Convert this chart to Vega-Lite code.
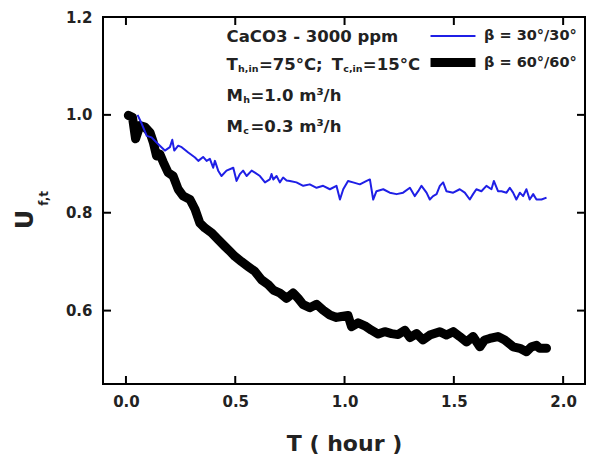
{
  "$schema": "https://vega.github.io/schema/vega-lite/v6.json",
  "width": 482,
  "height": 367,
  "autosize": "none",
  "padding": {"left": 103, "top": 17, "right": 4, "bottom": 77},
  "background": "white",
  "config": {
    "view": {"stroke": "black", "strokeWidth": 2},
    "font": "DejaVu Sans",
    "axis": {
      "labelFont": "DejaVu Sans",
      "labelFontWeight": "bold",
      "labelFontSize": 15,
      "labelColor": "#222",
      "titleFont": "DejaVu Sans",
      "titleFontWeight": "bold",
      "titleColor": "#222",
      "tickOpacity": 0,
      "tickSize": 8,
      "domain": false,
      "grid": false,
      "labelFlush": false
    }
  },
  "datasets": {
    "xticks": [{"v": 0}, {"v": 0.5}, {"v": 1.0}, {"v": 1.5}, {"v": 2.0}],
    "yticks": [{"v": 0.6}, {"v": 0.8}, {"v": 1.0}, {"v": 1.2}],
    "curves": [
      {"t": 0.011, "u": 0.999, "s": "β = 60°/60°"},
      {"t": 0.030, "u": 0.995, "s": "β = 60°/60°"},
      {"t": 0.044, "u": 0.951, "s": "β = 60°/60°"},
      {"t": 0.064, "u": 0.978, "s": "β = 60°/60°"},
      {"t": 0.087, "u": 0.975, "s": "β = 60°/60°"},
      {"t": 0.110, "u": 0.964, "s": "β = 60°/60°"},
      {"t": 0.125, "u": 0.944, "s": "β = 60°/60°"},
      {"t": 0.140, "u": 0.916, "s": "β = 60°/60°"},
      {"t": 0.155, "u": 0.920, "s": "β = 60°/60°"},
      {"t": 0.171, "u": 0.903, "s": "β = 60°/60°"},
      {"t": 0.193, "u": 0.882, "s": "β = 60°/60°"},
      {"t": 0.216, "u": 0.875, "s": "β = 60°/60°"},
      {"t": 0.239, "u": 0.848, "s": "β = 60°/60°"},
      {"t": 0.262, "u": 0.834, "s": "β = 60°/60°"},
      {"t": 0.293, "u": 0.827, "s": "β = 60°/60°"},
      {"t": 0.316, "u": 0.807, "s": "β = 60°/60°"},
      {"t": 0.338, "u": 0.779, "s": "β = 60°/60°"},
      {"t": 0.361, "u": 0.769, "s": "β = 60°/60°"},
      {"t": 0.392, "u": 0.759, "s": "β = 60°/60°"},
      {"t": 0.422, "u": 0.745, "s": "β = 60°/60°"},
      {"t": 0.453, "u": 0.731, "s": "β = 60°/60°"},
      {"t": 0.476, "u": 0.721, "s": "β = 60°/60°"},
      {"t": 0.498, "u": 0.711, "s": "β = 60°/60°"},
      {"t": 0.529, "u": 0.700, "s": "β = 60°/60°"},
      {"t": 0.559, "u": 0.690, "s": "β = 60°/60°"},
      {"t": 0.590, "u": 0.680, "s": "β = 60°/60°"},
      {"t": 0.620, "u": 0.663, "s": "β = 60°/60°"},
      {"t": 0.651, "u": 0.653, "s": "β = 60°/60°"},
      {"t": 0.674, "u": 0.642, "s": "β = 60°/60°"},
      {"t": 0.704, "u": 0.636, "s": "β = 60°/60°"},
      {"t": 0.735, "u": 0.625, "s": "β = 60°/60°"},
      {"t": 0.765, "u": 0.636, "s": "β = 60°/60°"},
      {"t": 0.788, "u": 0.625, "s": "β = 60°/60°"},
      {"t": 0.811, "u": 0.612, "s": "β = 60°/60°"},
      {"t": 0.841, "u": 0.606, "s": "β = 60°/60°"},
      {"t": 0.872, "u": 0.613, "s": "β = 60°/60°"},
      {"t": 0.902, "u": 0.601, "s": "β = 60°/60°"},
      {"t": 0.933, "u": 0.591, "s": "β = 60°/60°"},
      {"t": 0.963, "u": 0.586, "s": "β = 60°/60°"},
      {"t": 0.986, "u": 0.588, "s": "β = 60°/60°"},
      {"t": 1.016, "u": 0.590, "s": "β = 60°/60°"},
      {"t": 1.032, "u": 0.567, "s": "β = 60°/60°"},
      {"t": 1.062, "u": 0.575, "s": "β = 60°/60°"},
      {"t": 1.093, "u": 0.569, "s": "β = 60°/60°"},
      {"t": 1.123, "u": 0.560, "s": "β = 60°/60°"},
      {"t": 1.154, "u": 0.552, "s": "β = 60°/60°"},
      {"t": 1.184, "u": 0.557, "s": "β = 60°/60°"},
      {"t": 1.215, "u": 0.553, "s": "β = 60°/60°"},
      {"t": 1.245, "u": 0.551, "s": "β = 60°/60°"},
      {"t": 1.276, "u": 0.560, "s": "β = 60°/60°"},
      {"t": 1.299, "u": 0.545, "s": "β = 60°/60°"},
      {"t": 1.329, "u": 0.553, "s": "β = 60°/60°"},
      {"t": 1.359, "u": 0.540, "s": "β = 60°/60°"},
      {"t": 1.390, "u": 0.550, "s": "β = 60°/60°"},
      {"t": 1.436, "u": 0.557, "s": "β = 60°/60°"},
      {"t": 1.466, "u": 0.550, "s": "β = 60°/60°"},
      {"t": 1.497, "u": 0.557, "s": "β = 60°/60°"},
      {"t": 1.527, "u": 0.547, "s": "β = 60°/60°"},
      {"t": 1.558, "u": 0.536, "s": "β = 60°/60°"},
      {"t": 1.588, "u": 0.547, "s": "β = 60°/60°"},
      {"t": 1.619, "u": 0.526, "s": "β = 60°/60°"},
      {"t": 1.641, "u": 0.540, "s": "β = 60°/60°"},
      {"t": 1.664, "u": 0.543, "s": "β = 60°/60°"},
      {"t": 1.702, "u": 0.547, "s": "β = 60°/60°"},
      {"t": 1.733, "u": 0.540, "s": "β = 60°/60°"},
      {"t": 1.771, "u": 0.526, "s": "β = 60°/60°"},
      {"t": 1.802, "u": 0.523, "s": "β = 60°/60°"},
      {"t": 1.832, "u": 0.516, "s": "β = 60°/60°"},
      {"t": 1.855, "u": 0.526, "s": "β = 60°/60°"},
      {"t": 1.878, "u": 0.529, "s": "β = 60°/60°"},
      {"t": 1.893, "u": 0.523, "s": "β = 60°/60°"},
      {"t": 1.924, "u": 0.523, "s": "β = 60°/60°"},
      {"t": 0.053, "u": 1.000, "s": "β = 30°/30°"},
      {"t": 0.069, "u": 0.985, "s": "β = 30°/30°"},
      {"t": 0.095, "u": 0.957, "s": "β = 30°/30°"},
      {"t": 0.117, "u": 0.954, "s": "β = 30°/30°"},
      {"t": 0.148, "u": 0.940, "s": "β = 30°/30°"},
      {"t": 0.178, "u": 0.927, "s": "β = 30°/30°"},
      {"t": 0.201, "u": 0.934, "s": "β = 30°/30°"},
      {"t": 0.212, "u": 0.949, "s": "β = 30°/30°"},
      {"t": 0.221, "u": 0.927, "s": "β = 30°/30°"},
      {"t": 0.239, "u": 0.937, "s": "β = 30°/30°"},
      {"t": 0.255, "u": 0.934, "s": "β = 30°/30°"},
      {"t": 0.285, "u": 0.923, "s": "β = 30°/30°"},
      {"t": 0.316, "u": 0.913, "s": "β = 30°/30°"},
      {"t": 0.331, "u": 0.906, "s": "β = 30°/30°"},
      {"t": 0.353, "u": 0.914, "s": "β = 30°/30°"},
      {"t": 0.369, "u": 0.906, "s": "β = 30°/30°"},
      {"t": 0.384, "u": 0.910, "s": "β = 30°/30°"},
      {"t": 0.399, "u": 0.892, "s": "β = 30°/30°"},
      {"t": 0.407, "u": 0.906, "s": "β = 30°/30°"},
      {"t": 0.422, "u": 0.886, "s": "β = 30°/30°"},
      {"t": 0.437, "u": 0.875, "s": "β = 30°/30°"},
      {"t": 0.460, "u": 0.886, "s": "β = 30°/30°"},
      {"t": 0.491, "u": 0.892, "s": "β = 30°/30°"},
      {"t": 0.506, "u": 0.865, "s": "β = 30°/30°"},
      {"t": 0.521, "u": 0.879, "s": "β = 30°/30°"},
      {"t": 0.536, "u": 0.886, "s": "β = 30°/30°"},
      {"t": 0.552, "u": 0.875, "s": "β = 30°/30°"},
      {"t": 0.575, "u": 0.886, "s": "β = 30°/30°"},
      {"t": 0.590, "u": 0.882, "s": "β = 30°/30°"},
      {"t": 0.613, "u": 0.875, "s": "β = 30°/30°"},
      {"t": 0.636, "u": 0.862, "s": "β = 30°/30°"},
      {"t": 0.658, "u": 0.868, "s": "β = 30°/30°"},
      {"t": 0.666, "u": 0.879, "s": "β = 30°/30°"},
      {"t": 0.674, "u": 0.868, "s": "β = 30°/30°"},
      {"t": 0.689, "u": 0.875, "s": "β = 30°/30°"},
      {"t": 0.704, "u": 0.862, "s": "β = 30°/30°"},
      {"t": 0.719, "u": 0.872, "s": "β = 30°/30°"},
      {"t": 0.735, "u": 0.866, "s": "β = 30°/30°"},
      {"t": 0.750, "u": 0.865, "s": "β = 30°/30°"},
      {"t": 0.780, "u": 0.862, "s": "β = 30°/30°"},
      {"t": 0.811, "u": 0.855, "s": "β = 30°/30°"},
      {"t": 0.841, "u": 0.858, "s": "β = 30°/30°"},
      {"t": 0.872, "u": 0.851, "s": "β = 30°/30°"},
      {"t": 0.902, "u": 0.855, "s": "β = 30°/30°"},
      {"t": 0.933, "u": 0.848, "s": "β = 30°/30°"},
      {"t": 0.963, "u": 0.855, "s": "β = 30°/30°"},
      {"t": 0.979, "u": 0.827, "s": "β = 30°/30°"},
      {"t": 0.994, "u": 0.848, "s": "β = 30°/30°"},
      {"t": 1.016, "u": 0.865, "s": "β = 30°/30°"},
      {"t": 1.039, "u": 0.862, "s": "β = 30°/30°"},
      {"t": 1.070, "u": 0.858, "s": "β = 30°/30°"},
      {"t": 1.101, "u": 0.865, "s": "β = 30°/30°"},
      {"t": 1.116, "u": 0.868, "s": "β = 30°/30°"},
      {"t": 1.131, "u": 0.827, "s": "β = 30°/30°"},
      {"t": 1.146, "u": 0.844, "s": "β = 30°/30°"},
      {"t": 1.177, "u": 0.848, "s": "β = 30°/30°"},
      {"t": 1.207, "u": 0.841, "s": "β = 30°/30°"},
      {"t": 1.238, "u": 0.838, "s": "β = 30°/30°"},
      {"t": 1.268, "u": 0.841, "s": "β = 30°/30°"},
      {"t": 1.299, "u": 0.851, "s": "β = 30°/30°"},
      {"t": 1.321, "u": 0.834, "s": "β = 30°/30°"},
      {"t": 1.337, "u": 0.844, "s": "β = 30°/30°"},
      {"t": 1.352, "u": 0.855, "s": "β = 30°/30°"},
      {"t": 1.375, "u": 0.841, "s": "β = 30°/30°"},
      {"t": 1.390, "u": 0.827, "s": "β = 30°/30°"},
      {"t": 1.405, "u": 0.834, "s": "β = 30°/30°"},
      {"t": 1.421, "u": 0.838, "s": "β = 30°/30°"},
      {"t": 1.436, "u": 0.855, "s": "β = 30°/30°"},
      {"t": 1.451, "u": 0.862, "s": "β = 30°/30°"},
      {"t": 1.466, "u": 0.844, "s": "β = 30°/30°"},
      {"t": 1.497, "u": 0.841, "s": "β = 30°/30°"},
      {"t": 1.527, "u": 0.848, "s": "β = 30°/30°"},
      {"t": 1.550, "u": 0.841, "s": "β = 30°/30°"},
      {"t": 1.573, "u": 0.827, "s": "β = 30°/30°"},
      {"t": 1.588, "u": 0.838, "s": "β = 30°/30°"},
      {"t": 1.603, "u": 0.848, "s": "β = 30°/30°"},
      {"t": 1.626, "u": 0.844, "s": "β = 30°/30°"},
      {"t": 1.649, "u": 0.855, "s": "β = 30°/30°"},
      {"t": 1.672, "u": 0.848, "s": "β = 30°/30°"},
      {"t": 1.683, "u": 0.865, "s": "β = 30°/30°"},
      {"t": 1.702, "u": 0.844, "s": "β = 30°/30°"},
      {"t": 1.718, "u": 0.844, "s": "β = 30°/30°"},
      {"t": 1.741, "u": 0.841, "s": "β = 30°/30°"},
      {"t": 1.756, "u": 0.851, "s": "β = 30°/30°"},
      {"t": 1.771, "u": 0.841, "s": "β = 30°/30°"},
      {"t": 1.786, "u": 0.827, "s": "β = 30°/30°"},
      {"t": 1.802, "u": 0.841, "s": "β = 30°/30°"},
      {"t": 1.817, "u": 0.834, "s": "β = 30°/30°"},
      {"t": 1.832, "u": 0.848, "s": "β = 30°/30°"},
      {"t": 1.847, "u": 0.827, "s": "β = 30°/30°"},
      {"t": 1.863, "u": 0.838, "s": "β = 30°/30°"},
      {"t": 1.878, "u": 0.827, "s": "β = 30°/30°"},
      {"t": 1.901, "u": 0.827, "s": "β = 30°/30°"},
      {"t": 1.924, "u": 0.831, "s": "β = 30°/30°"}
    ],
    "notes": [
      {"tx": 0.4604, "uy": 1.1494, "label": "CaCO3 - 3000 ppm", "kind": "main"},
      {"tx": 0.4604, "uy": 1.0911, "label": "T", "kind": "main"},
      {"tx": 0.5130, "uy": 1.0870, "label": "h,in", "kind": "sub"},
      {"tx": 0.6081, "uy": 1.0911, "label": "=75°C;", "kind": "main"},
      {"tx": 0.9419, "uy": 1.0911, "label": "T", "kind": "main"},
      {"tx": 0.9945, "uy": 1.0870, "label": "c,in", "kind": "sub"},
      {"tx": 1.0837, "uy": 1.0911, "label": "=15°C", "kind": "main"},
      {"tx": 0.4604, "uy": 1.0282, "label": "M", "kind": "main"},
      {"tx": 0.5363, "uy": 1.0240, "label": "h", "kind": "sub"},
      {"tx": 0.5693, "uy": 1.0282, "label": "=1.0 m³/h", "kind": "main"},
      {"tx": 0.4604, "uy": 0.9644, "label": "M", "kind": "main"},
      {"tx": 0.5363, "uy": 0.9600, "label": "c", "kind": "sub"},
      {"tx": 0.5693, "uy": 0.9644, "label": "=0.3 m³/h", "kind": "main"}
    ]
  },
  "layer": [
    {
      "data": {"name": "xticks"},
      "mark": {"type": "tick", "orient": "vertical", "size": 16, "thickness": 2, "color": "#000000", "opacity": 1, "clip": true},
      "encoding": {
        "x": {"field": "v", "type": "quantitative", "scale": {"domain": [-0.105, 2.1], "nice": false, "zero": false},
          "axis": {"orient": "bottom", "values": [0, 0.5, 1, 1.5, 2], "format": ".1f", "labelPadding": 2,
            "title": "T ( hour )", "titleFontSize": 22, "titleY": 66, "titleBaseline": "alphabetic"}},
        "y": {"datum": 0.45, "type": "quantitative", "scale": {"domain": [0.45, 1.2], "nice": false, "zero": false},
          "axis": {"orient": "left", "values": [0.6, 0.8, 1.0, 1.2], "format": ".1f", "labelPadding": 3,
            "title": "U", "titleFontSize": 24, "titleX": -71, "titleY": 202, "titleAngle": 270, "titleAlign": "center", "titleBaseline": "alphabetic"}}
      }
    },
    {
      "data": {"name": "xticks"},
      "mark": {"type": "tick", "orient": "vertical", "size": 16, "thickness": 2, "color": "#000000", "opacity": 1, "clip": true},
      "encoding": {
        "x": {"field": "v", "type": "quantitative", "scale": {"domain": [-0.105, 2.1], "nice": false, "zero": false}, "axis": null},
        "y": {"datum": 1.2, "type": "quantitative", "scale": {"domain": [0.45, 1.2], "nice": false, "zero": false}, "axis": null}
      }
    },
    {
      "data": {"name": "yticks"},
      "mark": {"type": "tick", "orient": "horizontal", "size": 16, "thickness": 2, "color": "#000000", "opacity": 1, "clip": true},
      "encoding": {
        "y": {"field": "v", "type": "quantitative", "scale": {"domain": [0.45, 1.2], "nice": false, "zero": false}, "axis": null},
        "x": {"datum": -0.105, "type": "quantitative", "scale": {"domain": [-0.105, 2.1], "nice": false, "zero": false}, "axis": null}
      }
    },
    {
      "data": {"name": "yticks"},
      "mark": {"type": "tick", "orient": "horizontal", "size": 16, "thickness": 2, "color": "#000000", "opacity": 1, "clip": true},
      "encoding": {
        "y": {"field": "v", "type": "quantitative", "scale": {"domain": [0.45, 1.2], "nice": false, "zero": false}, "axis": null},
        "x": {"datum": 2.1, "type": "quantitative", "scale": {"domain": [-0.105, 2.1], "nice": false, "zero": false}, "axis": null}
      }
    },
    {
      "data": {"name": "curves"},
      "transform": [{"filter": "datum.s === 'β = 60°/60°'"}],
      "mark": {"type": "line", "strokeCap": "round", "strokeJoin": "round", "clip": false},
      "encoding": {
        "x": {"field": "t", "type": "quantitative", "scale": {"domain": [-0.105, 2.1], "nice": false, "zero": false}, "axis": null},
        "y": {"field": "u", "type": "quantitative", "scale": {"domain": [0.45, 1.2], "nice": false, "zero": false}, "axis": null},
        "color": {"field": "s", "type": "nominal",
          "scale": {"domain": ["β = 30°/30°", "β = 60°/60°"], "range": ["#1f1fe6", "#000000"]},
          "legend": {"orient": "none", "legendX": 331, "legendY": 3.5, "title": null,
            "symbolType": "M-1.55,0H1.55", "symbolSize": 841, "labelOffset": 12, "rowPadding": 1,
            "labelFont": "DejaVu Sans", "labelFontWeight": "bold", "labelFontSize": 14.5, "labelColor": "#222", "padding": 0, "labelLimit": 200}},
        "strokeWidth": {"field": "s", "type": "nominal",
          "scale": {"domain": ["β = 30°/30°", "β = 60°/60°"], "range": [2, 9]},
          "legend": {"orient": "none", "legendX": 331, "legendY": 3.5, "title": null,
            "symbolType": "M-1.55,0H1.55", "symbolSize": 841, "labelOffset": 12, "rowPadding": 1,
            "labelFont": "DejaVu Sans", "labelFontWeight": "bold", "labelFontSize": 14.5, "labelColor": "#222", "padding": 0, "labelLimit": 200}}
      }
    },
    {
      "data": {"name": "curves"},
      "transform": [{"filter": "datum.s === 'β = 30°/30°'"}],
      "mark": {"type": "line", "strokeJoin": "round", "clip": false},
      "encoding": {
        "x": {"field": "t", "type": "quantitative", "scale": {"domain": [-0.105, 2.1], "nice": false, "zero": false}, "axis": null},
        "y": {"field": "u", "type": "quantitative", "scale": {"domain": [0.45, 1.2], "nice": false, "zero": false}, "axis": null},
        "color": {"field": "s", "type": "nominal", "scale": {"domain": ["β = 30°/30°", "β = 60°/60°"], "range": ["#1f1fe6", "#000000"]}},
        "strokeWidth": {"field": "s", "type": "nominal", "scale": {"domain": ["β = 30°/30°", "β = 60°/60°"], "range": [2, 9]}}
      }
    },
    {
      "data": {"name": "notes"},
      "transform": [{"filter": "datum.kind === 'main'"}],
      "mark": {"type": "text", "align": "left", "baseline": "alphabetic", "font": "DejaVu Sans", "fontWeight": "bold", "fontSize": 16.5, "color": "#222"},
      "encoding": {
        "x": {"field": "tx", "type": "quantitative", "scale": {"domain": [-0.105, 2.1], "nice": false, "zero": false}, "axis": null},
        "y": {"field": "uy", "type": "quantitative", "scale": {"domain": [0.45, 1.2], "nice": false, "zero": false}, "axis": null},
        "text": {"field": "label"}
      }
    },
    {
      "data": {"name": "notes"},
      "transform": [{"filter": "datum.kind === 'sub'"}],
      "mark": {"type": "text", "align": "left", "baseline": "alphabetic", "font": "DejaVu Sans", "fontWeight": "bold", "fontSize": 9.5, "color": "#222"},
      "encoding": {
        "x": {"field": "tx", "type": "quantitative", "scale": {"domain": [-0.105, 2.1], "nice": false, "zero": false}, "axis": null},
        "y": {"field": "uy", "type": "quantitative", "scale": {"domain": [0.45, 1.2], "nice": false, "zero": false}, "axis": null},
        "text": {"field": "label"}
      }
    },
    {
      "data": {"values": [{}]},
      "mark": {"type": "text", "angle": 270, "align": "center", "baseline": "alphabetic", "font": "DejaVu Sans", "fontWeight": "bold", "fontSize": 12, "color": "#222"},
      "encoding": {
        "x": {"datum": -0.355, "type": "quantitative", "scale": {"domain": [-0.105, 2.1], "nice": false, "zero": false}, "axis": null},
        "y": {"datum": 0.8294, "type": "quantitative", "scale": {"domain": [0.45, 1.2], "nice": false, "zero": false}, "axis": null},
        "text": {"value": "f,t"}
      }
    }
  ],
  "resolve": {"axis": {"x": "independent", "y": "independent"}}
}
